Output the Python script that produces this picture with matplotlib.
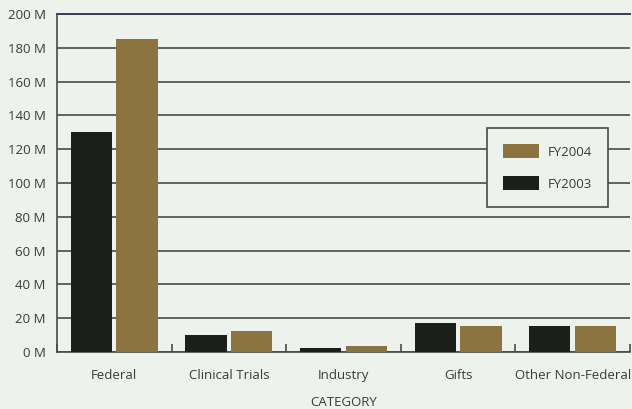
import matplotlib
matplotlib.use("Agg")
import matplotlib.pyplot as plt
import numpy as np

categories = ["Federal", "Clinical Trials", "Industry", "Gifts", "Other Non-Federal"]
fy2003 = [130, 10, 2.3, 17, 15.5]
fy2004 = [185, 12.5, 3.5, 15.5, 15.5]
yticks = [0, 20, 40, 60, 80, 100, 120, 140, 160, 180, 200]
ytick_labels = [f"{v} M" for v in yticks]

bg = "#eef2ed"
dark = "#1b1e19"
tan = "#8c7441"
grid_col = "#4a4a48"
text_col = "#3a3a3a"

plt.rcParams["font.family"] = ["Open Sans", "DejaVu Sans"]

fig = plt.figure(figsize=(6.32, 4.09), dpi=100, facecolor=bg)
ax = fig.add_axes([0.090, 0.1394, 0.907, 0.8264], facecolor=bg)

x = np.arange(len(categories))
w = 0.36
off = 0.2
b03 = ax.bar(x - off, fy2003, w, color=dark, zorder=3, label="FY2003")
b04 = ax.bar(x + off, fy2004, w, color=tan, zorder=3, label="FY2004")

ax.set_xlim(-0.5, 4.5)
ax.set_ylim(0, 200)
ax.set_yticks(yticks)
ax.set_yticklabels(ytick_labels, fontsize=9.5, color=text_col)
ax.tick_params(axis="y", length=0, pad=8)
ax.yaxis.grid(True, color=grid_col, linewidth=1.2, zorder=1)
ax.set_axisbelow(True)

ax.set_xticks(x)
ax.set_xticklabels(categories, fontsize=9.5, color=text_col)
ax.tick_params(axis="x", which="major", length=0, pad=12)
ax.set_xticks(np.arange(-0.5, 5.0, 1.0), minor=True)
ax.tick_params(axis="x", which="minor", direction="in", length=6, width=1.2, color=grid_col)
ax.set_xlabel("CATEGORY", fontsize=9.5, color=text_col, labelpad=10)

for side in ["top", "right"]:
    ax.spines[side].set_visible(False)
ax.spines["left"].set_color(grid_col)
ax.spines["left"].set_linewidth(1.2)
ax.spines["bottom"].set_color(grid_col)
ax.spines["bottom"].set_linewidth(1.2)
ax.axhline(200, color="#3b3a5a", linewidth=1.4, zorder=2, clip_on=False)

leg = ax.legend(handles=[b04, b03], labels=["FY2004", "FY2003"],
                loc="upper left", bbox_to_anchor=(0.750, 0.663),
                frameon=True, fancybox=False, fontsize=9.5,
                handlelength=2.7, handleheight=1.3, labelspacing=1.32,
                borderpad=1.22, handletextpad=0.7, borderaxespad=0)
leg.get_frame().set_facecolor(bg)
leg.get_frame().set_edgecolor(grid_col)
leg.get_frame().set_linewidth(1.2)
leg.get_frame().set_alpha(1)
for t in leg.get_texts():
    t.set_color(text_col)

fig.savefig("out.png", dpi=100, facecolor=bg)
